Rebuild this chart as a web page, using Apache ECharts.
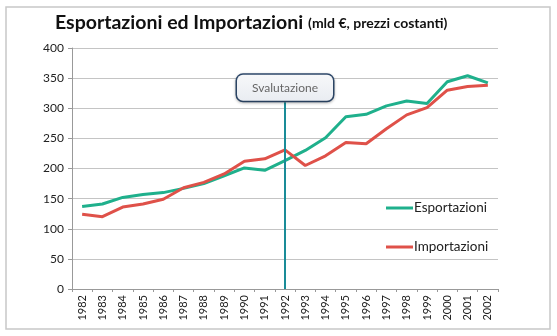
<!DOCTYPE html>
<html><head><meta charset="utf-8">
<script src="https://cdn.jsdelivr.net/npm/echarts@6/dist/echarts.min.js"></script>
<style>html,body{margin:0;padding:0;background:#fff}#c{width:557px;height:336px}</style>
</head><body><div id="c"></div>
<script>
const years = ['1982','1983','1984','1985','1986','1987','1988','1989','1990','1991','1992','1993','1994','1995','1996','1997','1998','1999','2000','2001','2002'];
const esportazioni = [137,141,152,157,160,167,175,188,201,197,213,230,251,286,290,304,312,308,344,354,342];
const importazioni = [124,120,136,141,149,168,177,191,212,216,231,205,221,243,241,266,289,301,330,336,338];
const eventYear = '1992';
const eventLabel = 'Svalutazione';
const yTicks = [0,50,100,150,200,250,300,350,400];

const chart = echarts.init(document.getElementById('c'));
chart.setOption({
  animation:false,
  title:{
    text:'{a|Esportazioni ed Importazioni} {b|(mld €, prezzi costanti)}',
    left:50, top:8,
    textStyle:{rich:{
      a:{fontFamily:'Lato',fontWeight:'bold',fontSize:19.5,color:'#111'},
      b:{fontFamily:'Lato',fontWeight:'bold',fontSize:14,color:'#111'}
    }}
  },
  graphic:[{type:'rect',shape:{x:6,y:7,width:544,height:322},style:{fill:'none',stroke:'#c8c8c8',lineWidth:1.5},z:-1}],
  legend:{
    orient:'vertical', left:381, top:196, itemGap:25,
    itemWidth:27, itemHeight:3, icon:'rect',
    textStyle:{fontFamily:'Lato',fontSize:13.5,color:'#222',padding:[0,0,0,-4]},
    data:['Esportazioni','Importazioni']
  },
  grid:{left:72,right:59,top:48,bottom:47},
  xAxis:{
    type:'category', data:years, boundaryGap:true,
    axisLine:{lineStyle:{color:'#999'}},
    axisTick:{show:true,length:3,lineStyle:{color:'#999'}},
    axisLabel:{rotate:90,fontFamily:'Lato',fontSize:11,color:'#222',margin:6}
  },
  yAxis:{
    type:'value', min:yTicks[0], max:yTicks[yTicks.length-1], interval:50,
    axisLine:{show:true,lineStyle:{color:'#999'}},
    axisTick:{show:true,length:4,lineStyle:{color:'#999'}},
    axisLabel:{fontFamily:'Lato',fontSize:12,color:'#222',margin:8},
    splitLine:{lineStyle:{color:'#c4c4c4'}}
  },
  series:[
    {name:'Esportazioni',type:'line',data:esportazioni,symbol:'none',
     lineStyle:{width:3,color:'#1fb08c'},itemStyle:{color:'#1fb08c'},
     markLine:{symbol:'none',silent:true,label:{show:false},
       lineStyle:{color:'#1a8c98',width:2,type:'solid'},
       data:[[{coord:[eventYear,0]},{coord:[eventYear,310]}]]},
     markPoint:{silent:true,symbol:'rect',symbolSize:0,
       label:{show:true,position:'inside',formatter:eventLabel,fontFamily:'Lato',fontSize:12,color:'#666',
         backgroundColor:{type:'linear',x:0,y:0,x2:0,y2:1,colorStops:[{offset:0,color:'#f7f8fa'},{offset:1,color:'#e9ecf1'}]},
         borderColor:'#2f4a6d',borderWidth:1.5,borderRadius:6,
         width:96,height:26,align:'center',verticalAlign:'middle',lineHeight:26,
         shadowColor:'rgba(0,0,0,0.25)',shadowBlur:3,shadowOffsetY:1},
       data:[{coord:[eventYear,334]}]}
    },
    {name:'Importazioni',type:'line',data:importazioni,symbol:'none',
     lineStyle:{width:3,color:'#df5149'},itemStyle:{color:'#df5149'}}
  ]
});
</script></body></html>
